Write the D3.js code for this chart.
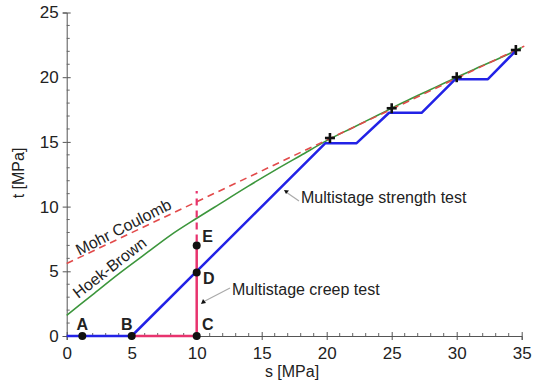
<!DOCTYPE html>
<html><head><meta charset="utf-8">
<script src="https://cdn.jsdelivr.net/npm/d3@7"></script>
<style>body{margin:0;background:#fff}svg{display:block}text{font-family:"Liberation Sans",Arial,sans-serif}</style>
</head><body><svg id="c" width="541" height="383"></svg>
<script>
// Data
const xTicks = [0,5,10,15,20,25,30,35];
const yTicks = [0,5,10,15,20,25];
const mohrS = [0, 35.2];
const mohrT = [5.6, 22.4];
const hoekS = [0,2,4,6,8,10,12,14,16,18,20,22,24,26,28,30,32,34,35];
const hoekT = [1.6,3.2,4.8,6.3,7.8,9.1,10.35,11.6,12.8,13.95,15.1,16.1,17.1,18.1,19.05,20.0,20.9,21.8,22.3];
const strengthS = [0,5,19.9,22.3,24.8,27.3,29.9,32.4,34.6];
const strengthT = [0,0,14.9,14.9,17.25,17.25,19.85,19.85,22.1];
const creepS = [5,10,10];
const creepT = [0,0,7.3];
const creepDashS = [10,10];
const creepDashT = [7.3,11.2];
const peakS = [20.25,25.0,30.0,34.55];
const peakT = [15.3,17.6,20.0,22.1];
const ptNames = ["A","B","C","D","E"];
const ptS = [1.2,5,10,10,10];
const ptT = [0,0,0,4.9,7.0];

const svg = d3.select("#c");
const x = d3.scaleLinear().domain([0,35]).range([66.7,521.7]);
const y = d3.scaleLinear().domain([0,25]).range([336,12.5]);

// axes
const xAxis = d3.axisBottom(x).tickValues(xTicks).tickSize(4).tickPadding(7);
const gx = svg.append("g").attr("transform",`translate(0,${y(0)})`).call(xAxis);
const yAxis = d3.axisLeft(y).tickValues(yTicks).tickSize(4).tickPadding(4);
const gy = svg.append("g").attr("transform",`translate(${x(0)},0)`).call(yAxis);
[gx,gy].forEach(g=>{
  g.select(".domain").attr("stroke","#555").attr("stroke-width",1);
  g.selectAll(".tick line").attr("stroke","#555");
  g.selectAll(".tick text").attr("font-size",17).attr("fill","#222").attr("font-family","Liberation Sans, Arial, sans-serif");
});
// inner half of major ticks
gx.selectAll(".tick").append("line").attr("y1",0).attr("y2",-4).attr("stroke","#555");
gy.selectAll(".tick").append("line").attr("x1",0).attr("x2",4).attr("stroke","#555");
// minor ticks
const xMinor = d3.range(0,36).filter(v=>v%5!==0);
const yMinor = d3.range(0,26).filter(v=>v%5!==0);
gx.selectAll(".minor").data(xMinor).enter().append("line").attr("class","minor")
  .attr("x1",d=>x(d)).attr("x2",d=>x(d)).attr("y1",0).attr("y2",-3).attr("stroke","#666");
gy.selectAll(".minor").data(yMinor).enter().append("line").attr("class","minor")
  .attr("y1",d=>y(d)).attr("y2",d=>y(d)).attr("x1",0).attr("x2",3).attr("stroke","#666");

// axis titles
svg.append("text").attr("x",292).attr("y",377).attr("text-anchor","middle").attr("font-size",16).attr("fill","#222").text("s [MPa]");
svg.append("text").attr("transform","translate(24,173) rotate(-90)").attr("text-anchor","middle").attr("font-size",16).attr("fill","#222").text("t [MPa]");

const line = d3.line().x(d=>x(d[0])).y(d=>y(d[1]));
const zip = (a,b)=>a.map((v,i)=>[v,b[i]]);

svg.append("path").attr("d",d3.line().curve(d3.curveMonotoneX).x(d=>x(d[0])).y(d=>y(d[1]))(zip(hoekS,hoekT)))
  .attr("fill","none").attr("stroke","#3c963c").attr("stroke-width",1.6);
svg.append("path").attr("d",line(zip(mohrS,mohrT)))
  .attr("fill","none").attr("stroke","#e24a4a").attr("stroke-width",1.6).attr("stroke-dasharray","7,5");
svg.append("path").attr("d",line(zip(strengthS,strengthT)))
  .attr("fill","none").attr("stroke","#2222e6").attr("stroke-width",2.5).attr("stroke-linejoin","round");
svg.append("path").attr("d",line(zip(creepS,creepT)))
  .attr("fill","none").attr("stroke","#e8336e").attr("stroke-width",2.5);
svg.append("path").attr("d",line(zip(creepDashS,creepDashT)))
  .attr("fill","none").attr("stroke","#e8336e").attr("stroke-width",2.2).attr("stroke-dasharray","7,5");

// peak crosses
const cross = svg.selectAll(".cross").data(zip(peakS,peakT)).enter().append("g")
  .attr("transform",d=>`translate(${x(d[0])},${y(d[1])})`);
cross.append("line").attr("x1",-5).attr("x2",5).attr("stroke","#111").attr("stroke-width",2.6);
cross.append("line").attr("y1",-5).attr("y2",5).attr("stroke","#111").attr("stroke-width",2.6);

// points
const pts = ptNames.map((n,i)=>({n,s:ptS[i],t:ptT[i]}));
svg.selectAll(".pt").data(pts).enter().append("circle")
  .attr("cx",d=>x(d.s)).attr("cy",d=>y(d.t)).attr("r",4).attr("fill","#111");
const off = {A:[0,-6],B:[-5,-6],C:[11,-6],D:[12,11],E:[11,-3]};
svg.selectAll(".pl").data(pts).enter().append("text")
  .attr("x",d=>x(d.s)+off[d.n][0]).attr("y",d=>y(d.t)+off[d.n][1])
  .attr("text-anchor","middle").attr("font-size",16).attr("font-weight","bold").attr("fill","#222").text(d=>d.n);

// curve labels
svg.append("text").attr("transform","translate(126,232) rotate(-27)").attr("text-anchor","middle")
  .attr("font-size",16).attr("fill","#222").text("Mohr Coulomb");
svg.append("text").attr("transform","translate(113,272) rotate(-38)").attr("text-anchor","middle")
  .attr("font-size",16).attr("fill","#222").text("Hoek-Brown");

// annotations
svg.append("line").attr("x1",286).attr("y1",192).attr("x2",299).attr("y2",201).attr("stroke","#aaa").attr("stroke-width",1.2);
svg.append("path").attr("d","M284,190 l5,0.5 l-3,3.5 z").attr("fill","#111");
svg.append("text").attr("x",301).attr("y",203).attr("font-size",16).attr("fill","#222").text("Multistage strength test");
svg.append("line").attr("x1",203).attr("y1",302).attr("x2",230).attr("y2",288).attr("stroke","#aaa").attr("stroke-width",1.2);
svg.append("path").attr("d","M201,304 l2,-5 l3,4 z").attr("fill","#111");
svg.append("text").attr("x",232).attr("y",295).attr("font-size",16).attr("fill","#222").text("Multistage creep test");
</script></body></html>
